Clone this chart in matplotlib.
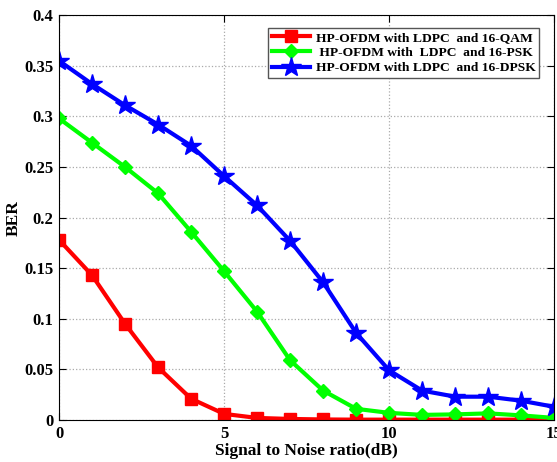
import matplotlib.pyplot as plt

# SNR points and BER for each modulation
snr = list(range(16))
ber_qam = [0.178, 0.143, 0.095, 0.052, 0.021, 0.006, 0.002, 0.001, 0.0005, 0.0003,
           0.0003, 0.0003, 0.0003, 0.0003, 0.0003, 0.0003]
ber_psk = [0.298, 0.274, 0.250, 0.224, 0.186, 0.147, 0.107, 0.059, 0.029, 0.011,
           0.007, 0.005, 0.0055, 0.0065, 0.0045, 0.002]
ber_dpsk = [0.355, 0.332, 0.311, 0.292, 0.271, 0.241, 0.212, 0.177, 0.136, 0.086,
            0.049, 0.029, 0.023, 0.023, 0.019, 0.013]
labels = ["HP-OFDM with LDPC  and 16-QAM",
          " HP-OFDM with  LDPC  and 16-PSK",
          "HP-OFDM with LDPC  and 16-DPSK"]

plt.rcParams['font.family'] = ['Liberation Serif', 'DejaVu Serif']
plt.rcParams['font.weight'] = 'bold'

fig = plt.figure(figsize=(5.57, 4.62), dpi=100)
ax = fig.add_axes([0.106, 0.091, 0.889, 0.876])

ax.plot(snr, ber_qam, color="red", marker="s", markersize=8, linewidth=3, label=labels[0])
ax.plot(snr, ber_psk, color="#00ff00", marker="D", markersize=7.5, linewidth=3, label=labels[1])
ax.plot(snr, ber_dpsk, color="#0000ff", marker="*", markersize=15, linewidth=3, label=labels[2])

ax.set_xlim(0, 15)
ax.set_ylim(0, 0.4)
ax.set_xticks([0, 5, 10, 15])
ax.set_yticks([0, 0.05, 0.1, 0.15, 0.2, 0.25, 0.3, 0.35, 0.4])
ax.set_yticklabels(["0", "0.05", "0.1", "0.15", "0.2", "0.25", "0.3", "0.35", "0.4"])
ax.tick_params(direction="in", labelsize=12, top=True, right=True, length=5, pad=4)
ax.grid(True, linestyle=":", color="#aaaaaa", linewidth=0.9)
ax.set_xlabel("Signal to Noise ratio(dB)", fontsize=12.5, fontweight="bold", labelpad=1)
ax.set_ylabel("BER", fontsize=12.5, fontweight="bold", labelpad=2)

leg = ax.legend(loc="upper right", fontsize=9.7, fancybox=False, framealpha=1,
                edgecolor="#555555", handlelength=2.8, borderpad=0.25, labelspacing=0.2,
                handletextpad=0.5, borderaxespad=0, bbox_to_anchor=(0.97, 0.968))
leg.get_frame().set_linewidth(1.0)

plt.savefig("out.png", dpi=100)
